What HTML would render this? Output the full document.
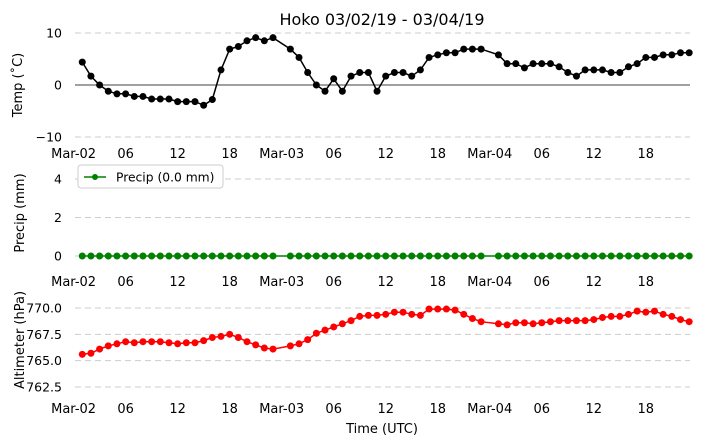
<!DOCTYPE html>
<html><head><meta charset="utf-8"><style>
body{margin:0;background:#fff;}
svg{display:block;font-family:"DejaVu Sans","Liberation Sans",sans-serif;}
</style></head><body>
<svg id="chart" width="704" height="445" viewBox="0 0 704 445" xmlns="http://www.w3.org/2000/svg">
<text x="382" y="25" font-size="16" text-anchor="middle">Hoko 03/02/19 - 03/04/19</text>
<text transform="translate(22,85) rotate(-90)" font-size="13" text-anchor="middle">Temp (˚C)</text>
<text transform="translate(24,213) rotate(-90)" font-size="13" text-anchor="middle">Precip (mm)</text>
<text transform="translate(24,340) rotate(-90)" font-size="13" text-anchor="middle">Altimeter (hPa)</text>
<text x="382" y="433" font-size="13" text-anchor="middle">Time (UTC)</text>
<g id="plots"></g>
<g>
<rect x="78" y="165" width="145" height="23" rx="3" fill="#fff" stroke="#ccc"/>
<line x1="84" y1="177" x2="106" y2="177" stroke="green" stroke-width="1.5"/>
<circle cx="95" cy="177" r="3" fill="green"/>
<text x="116" y="181.5" font-size="12.3">Precip (0.0 mm)</text>
</g>
</svg>
<script>
const hours = [];
for (let h = 1; h <= 71; h++) hours.push(h);
const missingHours = [24, 48];
const tempValues = [4.4,1.7,0,-1.2,-1.7,-1.7,-2.2,-2.2,-2.7,-2.7,-2.7,-3.2,-3.2,-3.2,-3.9,-2.8,2.9,6.9,7.4,8.5,9.1,8.5,9.1,null,
6.9,5.3,2.4,0,-1.2,1.2,-1.2,1.7,2.4,2.4,-1.2,1.7,2.4,2.4,1.7,2.9,5.3,5.8,6.2,6.2,6.9,6.9,6.9,null,
5.8,4.1,4.1,3.3,4.1,4.1,4.1,3.5,2.4,1.7,2.9,2.9,2.9,2.4,2.4,3.5,4.1,5.3,5.3,5.8,5.8,6.2,6.2];
const precipValues = hours.map(h => missingHours.includes(h) ? null : 0.0);
const altValues = [765.6,765.7,766.1,766.4,766.6,766.8,766.7,766.8,766.8,766.8,766.7,766.6,766.7,766.7,766.9,767.2,767.3,767.5,767.2,766.8,766.5,766.2,766.1,null,
766.4,766.6,767.0,767.6,767.9,768.2,768.5,768.8,769.2,769.3,769.3,769.4,769.6,769.6,769.4,769.3,769.9,769.9,769.9,769.8,769.4,769.0,768.7,null,
768.5,768.4,768.6,768.6,768.5,768.6,768.7,768.8,768.8,768.8,768.8,768.9,769.1,769.2,769.2,769.4,769.7,769.6,769.7,769.4,769.2,768.9,768.7];
const xTickHours = [0,6,12,18,24,30,36,42,48,54,60,66];
const xTickLabels = ["Mar-02","06","12","18","Mar-03","06","12","18","Mar-04","06","12","18"];
const tempTicks = [10,0,-10];
const precipTicks = [4,2,0];
const altTicks = [770.0,767.5,765.0,762.5];

const NS = "http://www.w3.org/2000/svg";
const g = document.getElementById('plots');
const xScale = h => 73.6 + 8.67 * h;
function el(tag, attrs, parent) {
  const e = document.createElementNS(NS, tag);
  for (const k in attrs) e.setAttribute(k, attrs[k]);
  (parent || g).appendChild(e);
  return e;
}
function panel(name, values, yScale, ticks, tickFmt, color, tickLabelY, zeroLine) {
  const pg = el('g', {});
  
  
  ticks.forEach(t => {
    const y = yScale(t);
    if (!(zeroLine && t === 0)) {
      const gl = el('line', {x1: 75, x2: 690, y1: y, y2: y, stroke: '#ccc', 'stroke-dasharray': '6,4', 'stroke-width': 1}, pg);
      
      
    }
    const tl = el('text', {x: 62, y: y + 4.5, 'font-size': 12.5, 'text-anchor': 'end'}, pg);
    tl.textContent = tickFmt(t);
    
    
  });
  if (zeroLine) {
    const zl = el('line', {x1: 75, x2: 690, y1: yScale(0), y2: yScale(0), stroke: '#000', 'stroke-width': 0.8}, pg);
    
    
  }
  xTickHours.forEach((h, i) => {
    const tx = el('text', {x: xScale(h), y: tickLabelY, 'font-size': 13, 'text-anchor': 'middle'}, pg);
    tx.textContent = xTickLabels[i];
    
    
  });
  let d = '';
  values.forEach((v, i) => {
    if (v === null || v === undefined) return;
    d += (d ? 'L' : 'M') + xScale(hours[i]).toFixed(1) + ',' + yScale(v).toFixed(1);
  });
  const line = el('path', {d: d, fill: 'none', stroke: color, 'stroke-width': 1.5}, pg);
  
  
  values.forEach((v, i) => {
    if (v === null || v === undefined) return;
    const c = el('circle', {cx: xScale(hours[i]), cy: yScale(v), r: 3.5, fill: color}, pg);
    
    
  });
}
panel('temp', tempValues, v => 85 - 5.2 * v, tempTicks, t => t < 0 ? '\u2212' + Math.abs(t) : String(t), '#000', 158, true);
panel('precip', precipValues, v => 256 - 19.25 * v, precipTicks, t => String(t), 'green', 286, false);
panel('altimeter', altValues, v => 308 + 10.53 * (770 - v), altTicks, t => t.toFixed(1), 'red', 413, false);
</script>
</body></html>
